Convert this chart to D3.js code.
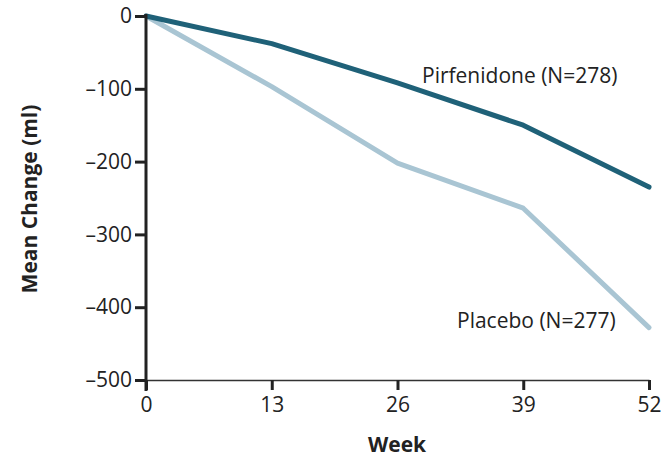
<!DOCTYPE html>
<html><head><meta charset="utf-8">
<script src="https://cdn.jsdelivr.net/npm/d3@7"></script>
<style>body{margin:0;background:#fff}svg{display:block}</style>
</head><body>
<script>
const weeks = [0, 13, 26, 39, 52];
const pirfenidone = [0, -38, -92, -150, -235];
const placebo = [0, -97, -202, -264, -428];
const yTicks = [0, -100, -200, -300, -400, -500];
const xTicks = [0, 13, 26, 39, 52];
const seriesNames = ["Pirfenidone (N=278)", "Placebo (N=277)"];

const W = 671, H = 459;
const svg = d3.select("body").append("svg").attr("width", W).attr("height", H);
const font = "'Open Sans', sans-serif";
const fs = 21;
const x = d3.scaleLinear().domain([0, 52]).range([146, 649]);
const y = d3.scaleLinear().domain([0, -500]).range([16, 380]);
const fmt = d => d < 0 ? "\u2013" + Math.abs(d) : String(d);

// lines
const line = d3.line().x((d, i) => x(weeks[i])).y(d => y(d));
svg.append("path").datum(placebo).attr("d", line).attr("fill", "none")
  .attr("stroke", "#a9c5d3").attr("stroke-width", 5).attr("stroke-linejoin", "round").attr("stroke-linecap", "round");
svg.append("path").datum(pirfenidone).attr("d", line).attr("fill", "none")
  .attr("stroke", "#1f6178").attr("stroke-width", 5).attr("stroke-linejoin", "round").attr("stroke-linecap", "round");

// x axis
const gx = svg.append("g").attr("transform", `translate(0,${y(-500)})`)
  .call(d3.axisBottom(x).tickValues(xTicks).tickSize(10).tickPadding(7).tickSizeOuter(0));
gx.select(".domain").attr("stroke", "#333").attr("stroke-width", 1.6);
gx.selectAll(".tick line").attr("stroke", "#222").attr("stroke-width", 3);
gx.selectAll(".tick text").attr("font-family", font).attr("font-size", fs).attr("fill", "#222");

// y axis
const gy = svg.append("g").attr("transform", `translate(${x(0)},0)`)
  .call(d3.axisLeft(y).tickValues(yTicks).tickFormat(fmt).tickSize(11).tickPadding(3).tickSizeOuter(0));
gy.select(".domain").attr("stroke", "#222").attr("stroke-width", 3)
  .attr("d", `M0,${y(0) - 2}V${y(-500) + 11}`);
gy.selectAll(".tick line").attr("stroke", "#222").attr("stroke-width", 3);
gy.selectAll(".tick text").attr("font-family", font).attr("font-size", fs).attr("fill", "#222");

// labels
svg.append("text").attr("x", 422).attr("y", 83).text(seriesNames[0])
  .attr("font-family", font).attr("font-size", fs).attr("fill", "#222");
svg.append("text").attr("x", 457).attr("y", 328).text(seriesNames[1])
  .attr("font-family", font).attr("font-size", fs).attr("fill", "#222");

// axis titles
svg.append("text").attr("x", 397).attr("y", 452).attr("text-anchor", "middle").text("Week")
  .attr("font-family", font).attr("font-size", fs).attr("font-weight", "bold").attr("fill", "#222");
svg.append("text").attr("transform", "translate(37,199) rotate(-90)").attr("text-anchor", "middle")
  .text("Mean Change (ml)").attr("font-family", font).attr("font-size", fs).attr("font-weight", "bold").attr("fill", "#222");
</script>
</body></html>
